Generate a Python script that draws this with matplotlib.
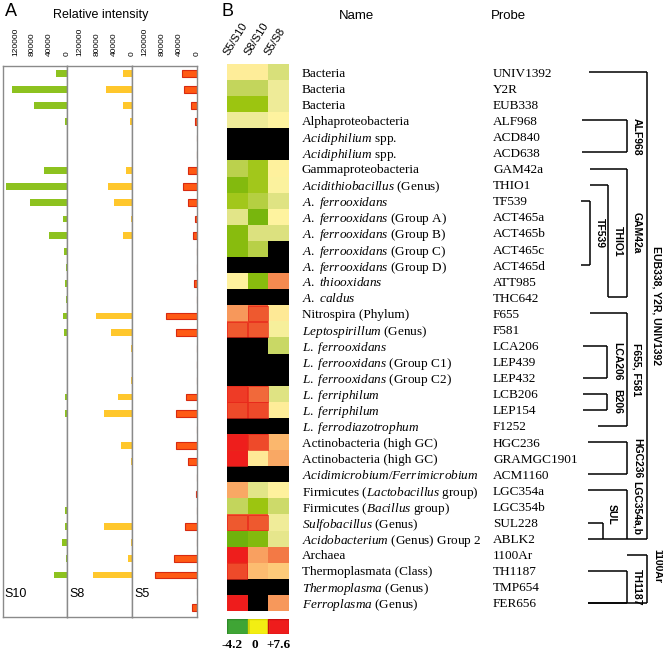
import matplotlib
matplotlib.use('Agg')
import matplotlib.pyplot as plt
import numpy as np
from matplotlib.colors import LinearSegmentedColormap, ListedColormap

plt.rcParams['font.family'] = ['Liberation Sans', 'DejaVu Sans']
plt.rcParams['mathtext.fontset'] = 'custom'
plt.rcParams['mathtext.rm'] = 'Liberation Serif'
plt.rcParams['mathtext.it'] = 'Liberation Serif:italic'

# ---------------- data ----------------
names = [
    'Bacteria', 'Bacteria', 'Bacteria', 'Alphaproteobacteria',
    r'$\mathit{Acidiphilium}$ spp.', r'$\mathit{Acidiphilium}$ spp.',
    'Gammaproteobacteria', r'$\mathit{Acidithiobacillus}$ (Genus)',
    r'$\mathit{A.\ ferrooxidans}$', r'$\mathit{A.\ ferrooxidans}$ (Group A)',
    r'$\mathit{A.\ ferrooxidans}$ (Group B)', r'$\mathit{A.\ ferrooxidans}$ (Group C)',
    r'$\mathit{A.\ ferrooxidans}$ (Group D)', r'$\mathit{A.\ thiooxidans}$',
    r'$\mathit{A.\ caldus}$', 'Nitrospira (Phylum)',
    r'$\mathit{Leptospirillum}$ (Genus)', r'$\mathit{L.\ ferrooxidans}$',
    r'$\mathit{L.\ ferrooxidans}$ (Group C1)', r'$\mathit{L.\ ferrooxidans}$ (Group C2)',
    r'$\mathit{L.\ ferriphilum}$', r'$\mathit{L.\ ferriphilum}$',
    r'$\mathit{L.\ ferrodiazotrophum}$', 'Actinobacteria (high GC)',
    'Actinobacteria (high GC)', r'$\mathit{Acidimicrobium/Ferrimicrobium}$',
    r'Firmicutes ($\mathit{Lactobacillus}$ group)', r'Firmicutes ($\mathit{Bacillus}$ group)',
    r'$\mathit{Sulfobacillus}$ (Genus)', r'$\mathit{Acidobacterium}$ (Genus) Group 2',
    'Archaea', 'Thermoplasmata (Class)', r'$\mathit{Thermoplasma}$ (Genus)',
    r'$\mathit{Ferroplasma}$ (Genus)',
]
probes = ['UNIV1392', 'Y2R', 'EUB338', 'ALF968', 'ACD840', 'ACD638', 'GAM42a', 'THIO1',
          'TF539', 'ACT465a', 'ACT465b', 'ACT465c', 'ACT465d', 'ATT985', 'THC642', 'F655',
          'F581', 'LCA206', 'LEP439', 'LEP432', 'LCB206', 'LEP154', 'F1252', 'HGC236',
          'GRAMGC1901', 'ACM1160', 'LGC354a', 'LGC354b', 'SUL228', 'ABLK2', '1100Ar',
          'TH1187', 'TMP654', 'FER656']

# relative intensities (panel A)
s10 = [26000, 128000, 76000, 5000, 0, 1000, 54000, 143000, 87000, 9000, 42000, 7000,
       1500, 5000, 1500, 9000, 6000, 1000, 1000, 1000, 4000, 4000,
       0, 1000, 1000, 0, 1000, 4500, 4500, 10500, 3000, 30000, 0, 0]
s8 = [20000, 61000, 20000, 4500, 0, 0, 14500, 56000, 41000, 1500, 21000, 0,
      0, 0, 0, 83000, 47500, 1500, 0, 1500, 33000, 64000,
      0, 26000, 1500, 0, 0, 0, 63500, 1500, 10000, 89000, 0, 0]
s5 = [34500, 31000, 14000, 4600, 1000, 0, 21000, 33000, 21000, 5400, 10000, 1000,
      0, 6000, 1000, 71500, 47500, 1000, 1000, 1000, 25000, 49000,
      0, 47500, 21000, 1000, 1500, 1000, 27000, 1000, 54000, 97500, 1000, 10500]
sample_labels = ['S10', 'S8', 'S5']
intensity_ticks = [120000, 80000, 40000, 0]

# log ratios (panel B); nan = not detected (black)
nan = np.nan
r_s5_s10 = [0.3, -1.8, -3.0, -0.6, nan, nan, -2.0, -3.5, -2.8, -0.9, -3.4, -3.4, nan, 0.1,
            nan, 3.5, 5.5, nan, nan, nan, 6.5, 6.0, nan, 7.5, 7.5, nan, 3.0, -1.8, 5.5,
            -3.9, 7.5, 6.0, nan, 7.6]
r_s8_s10 = [0.3, -1.8, -3.0, -0.6, nan, nan, -2.8, -2.8, -2.2, -3.7, -1.1, -2.1, nan, -3.4,
            nan, 5.5, 5.5, nan, nan, nan, 5.0, 6.0, nan, 6.0, 0.5, nan, -0.9, -3.0, 5.5,
            -3.5, 3.3, 2.3, nan, nan]
r_s5_s8 = [-1.2, -0.6, -0.6, 0.0, nan, nan, 0.1, -0.1, -1.0, 0.0, -1.1, nan, nan, 4.0,
           nan, 0.5, -0.3, -1.6, nan, nan, -1.0, 0.3, nan, 2.5, 3.0, nan, 0.1, -1.5, -0.5,
           -0.8, 4.5, 1.8, nan, 3.5]
ratio_labels = ['S5/S10', 'S8/S10', 'S5/S8']
scale_values = [-4.2, 0, 7.6]
scale_labels = ['-4.2', '0', '+7.6']

# bracket annotations: label, first row, last row
brackets = [
    ('EUB338, Y2R, UNIV1392', 0, 29),
    ('ALF968', 3, 5), ('GAM42a', 6, 14), ('THIO1', 7, 14), ('TF539', 8, 12),
    ('F655, F581', 15, 22), ('LCA206', 17, 19), ('B206', 20, 21),
    ('HGC236', 23, 25), ('LGC354a,b', 26, 29), ('SUL', 28, 29),
    ('1100Ar', 30, 33), ('TH1187', 31, 33),
]

# ---------------- layout helpers ----------------
W, H = 663, 654
fig = plt.figure(figsize=(W / 100, H / 100), dpi=100)


def rect(x0, y0, x1, y1):
    return [x0 / W, 1 - y1 / H, (x1 - x0) / W, (y1 - y0) / H]


n = len(names)
rows = np.arange(n)

# ---------------- panel A ----------------
bar_cols = [('#8dc21f', '#8dc21f', 0), ('#ffc72c', '#ffc72c', 0), ('#ff5a14', '#d82a10', 0.8)]
edges = [2.5, 67, 132, 197]
for k, vals in enumerate([s10, s8, s5]):
    ax = fig.add_axes(rect(edges[k], 66, edges[k + 1], 617))
    fc, ec, lw = bar_cols[k]
    ax.barh(rows, vals, height=0.42, color=fc, edgecolor=ec, linewidth=lw)
    ax.set_xlim(150000, 0)
    ax.set_ylim(33.6, -0.45)
    ax.xaxis.tick_top()
    ax.set_xticks(intensity_ticks)
    ax.set_xticklabels([str(t) for t in intensity_ticks], rotation=90, fontsize=6)
    ax.tick_params(axis='x', length=0, pad=7)
    ax.set_yticks([])
    for sp in ax.spines.values():
        sp.set_color('#8a8a8a')
        sp.set_linewidth(1.0)
    ax.text(0.03, 0.03, sample_labels[k], transform=ax.transAxes, fontsize=9,
            ha='left', va='bottom')

fig.text(5 / W, 1 - 12 / H, 'A', fontsize=13, ha='left', va='center')
fig.text(101 / W, 1 - 15 / H, 'Relative intensity', fontsize=9, ha='center', va='center')

# ---------------- panel B heatmap ----------------
anchors = [(-4.2, '#62ad0c'), (-3.0, '#9cc510'), (-1.8, '#c3d55c'), (-0.6, '#eeeb98'),
           (0.0, '#fff4a0'), (2.0, '#fdc676'), (3.3, '#f9a060'), (5.5, '#ef5a30'),
           (7.6, '#ee1c1c')]
vmin, vmax = -4.2, 7.6
cmap = LinearSegmentedColormap.from_list(
    'ratio', [((v - vmin) / (vmax - vmin), c) for v, c in anchors])
cmap.set_bad('black')

data = np.column_stack([r_s5_s10, r_s8_s10, r_s5_s8])
axh = fig.add_axes(rect(227, 64, 289, 611))
axh.imshow(np.ma.masked_invalid(data), cmap=cmap, vmin=vmin, vmax=vmax,
           aspect='auto', interpolation='nearest')
for (i, j), v in np.ndenumerate(data):
    if np.isfinite(v) and v >= 5.0:
        axh.add_patch(plt.Rectangle((j - 0.49, i - 0.48), 0.98, 0.96, fill=False,
                                    edgecolor='#e8261a', lw=0.5))
axh.set_xlim(-0.5, 2.5)
axh.set_ylim(n - 0.5, -0.5)
axh.axis('off')
for j, lab in enumerate(ratio_labels):
    axh.text(j - 0.35, -0.95, lab, rotation=58, rotation_mode='anchor',
             ha='left', va='bottom', fontsize=8)

fig.text(222 / W, 1 - 12 / H, 'B', fontsize=13, ha='left', va='center')

# colour scale
axc = fig.add_axes(rect(227, 619, 289, 634))
axc.imshow([scale_values], cmap=ListedColormap(['#3fa535', '#f3ee12', '#ee1c1c']),
           aspect='auto', interpolation='nearest')
for j, c in enumerate(['#2f8a2a', '#d8d400', '#c81010']):
    axc.add_patch(plt.Rectangle((j - 0.5, -0.5), 1, 1, fill=False, edgecolor=c, lw=1))
axc.set_xlim(-0.5, 2.5)
axc.set_ylim(0.5, -0.5)
axc.axis('off')
for j, lab in enumerate(scale_labels):
    axc.text(j + [-0.25, -0.15, 0.0][j], 1.25, lab, ha='center', va='center',
             fontsize=9.5, fontweight='bold', family='Liberation Serif', clip_on=False)

# ---------------- names / probes / brackets ----------------
axr = fig.add_axes(rect(290, 64, 663, 611))
axr.set_xlim(290, 663)
axr.set_ylim(n - 0.5, -0.5)
axr.axis('off')
for i in range(n):
    axr.text(302, i, names[i], fontsize=9.5, family='Liberation Serif',
             ha='left', va='center_baseline')
    axr.text(493, i, probes[i], fontsize=9.5, family='Liberation Serif',
             ha='left', va='center_baseline')
fig.text(356 / W, 1 - 16 / H, 'Name', fontsize=9.5, ha='center', va='center')
fig.text(508 / W, 1 - 16 / H, 'Probe', fontsize=9.5, ha='center', va='center')

# bracket geometry: (x of vertical, x start of top line, x start of bottom line, label x, label row offset)
geo = {
    'EUB338, Y2R, UNIV1392': (647, 589, 627, 657, None),
    'ALF968': (627, 582, 582, 637, None),
    'GAM42a': (627, 590, 608, 637, None),
    'THIO1': (608, 590, None, 618, None),
    'TF539': (590, 581, 581, 600, None),
    'F655, F581': (627, 590, 598, 637, None),
    'LCA206': (607, 583, 583, 617, None),
    'B206': (607, 583, 583, 617, None),
    'HGC236': (627, 588, 588, 637, None),
    'LGC354a,b': (627, 588, 588, 637, 1.1),
    'SUL': (603, 588, None, 612, -0.5),
    '1100Ar': (647, 627, 588, 657, 0.7),
    'TH1187': (627, 588, 588, 637, None),
}
lk = dict(color='black', lw=1.1, solid_capstyle='butt')
for lab, r0, r1 in brackets:
    xv, xt, xb, xl, off = geo[lab]
    axr.plot([xt, xv], [r0, r0], **lk)
    axr.plot([xv, xv], [r0, r1], **lk)
    if xb is not None:
        axr.plot([xb, xv], [r1, r1], **lk)
    yl = (r0 + r1) / 2 if off is None else r0 + off
    axr.text(xl, yl, lab, rotation=-90, ha='center', va='center',
             fontsize=7.5, fontweight='bold')

fig.savefig('out.png', dpi=100)
